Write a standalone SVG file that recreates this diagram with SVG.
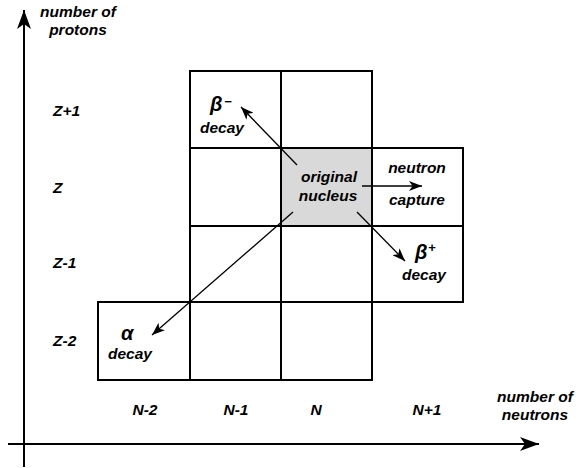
<svg xmlns="http://www.w3.org/2000/svg" width="580" height="468" viewBox="0 0 580 468">
<style>
.t{font-family:"Liberation Sans",Arial,Helvetica,sans-serif;font-weight:bold;font-style:italic;font-size:15.5px;fill:#000}
.m{text-anchor:middle}
.g{font-size:20px}
.s{font-size:13px}
.cell{fill:#fff;stroke:#000;stroke-width:2}
.orig{fill:#d9d9d9;stroke:#000;stroke-width:2}
.axis{stroke:#000;stroke-width:2;fill:none}
.arr{stroke:#000;stroke-width:1.3;fill:none}
</style>
<defs>
<marker id="big" markerUnits="userSpaceOnUse" markerWidth="20" markerHeight="14" viewBox="0 0 20 14" refX="19" refY="7" orient="auto">
<path d="M0,0 L19,7 L0,14 L5,7 Z" fill="#000"/>
</marker>
<marker id="small" markerUnits="userSpaceOnUse" markerWidth="14" markerHeight="10" viewBox="0 0 14 10" refX="13" refY="5" orient="auto">
<path d="M0,0 L13,5 L0,10 L3.5,5 Z" fill="#000"/>
</marker>
</defs>
<rect width="580" height="468" fill="#fff"/>

<g id="cells">
<g id="cell-Zp1-Nm1"><rect class="cell" x="190" y="71" width="91" height="77"/></g>
<g id="cell-Zp1-N"><rect class="cell" x="281" y="71" width="91" height="77"/></g>
<g id="cell-Z-Nm1"><rect class="cell" x="190" y="148" width="91" height="78"/></g>
<g id="cell-Z-Np1"><rect class="cell" x="372" y="148" width="91" height="78"/></g>
<g id="cell-Zm1-Nm1"><rect class="cell" x="190" y="226" width="91" height="76"/></g>
<g id="cell-Zm1-N"><rect class="cell" x="281" y="226" width="91" height="76"/></g>
<g id="cell-Zm1-Np1"><rect class="cell" x="372" y="226" width="91" height="76"/></g>
<g id="cell-Zm2-Nm2"><rect class="cell" x="98" y="302" width="92" height="78"/></g>
<g id="cell-Zm2-Nm1"><rect class="cell" x="190" y="302" width="91" height="78"/></g>
<g id="cell-Zm2-N"><rect class="cell" x="281" y="302" width="91" height="78"/></g>
<g id="original-nucleus"><rect class="orig" x="281" y="148" width="91" height="78"/>
<text class="t m" x="329" y="182">original</text>
<text class="t m" x="328" y="201">nucleus</text></g>
</g>

<g id="connectors">
<line class="axis" x1="24" y1="467" x2="24" y2="10" marker-end="url(#big)"/>
<line class="axis" x1="8" y1="444" x2="539" y2="444" marker-end="url(#big)"/>
<line class="arr" x1="297" y1="165" x2="241" y2="107" marker-end="url(#small)"/>
<line class="arr" x1="362" y1="186" x2="422" y2="186" marker-end="url(#small)"/>
<line class="arr" x1="357" y1="212" x2="405" y2="261" marker-end="url(#small)"/>
<line class="arr" x1="293" y1="212" x2="152" y2="335" marker-end="url(#small)"/>
</g>

<g id="label-protons-axis">
<text class="t m" x="78" y="17">number of</text>
<text class="t m" x="78" y="35">protons</text>
</g>
<g id="label-neutrons-axis">
<text class="t m" x="535" y="402">number of</text>
<text class="t m" x="535" y="420">neutrons</text>
</g>
<g id="row-labels">
<text class="t" x="53" y="116">Z+1</text>
<text class="t" x="53" y="193">Z</text>
<text class="t" x="53" y="268">Z-1</text>
<text class="t" x="53" y="346">Z-2</text>
</g>
<g id="col-labels">
<text class="t m" x="145" y="415">N-2</text>
<text class="t m" x="236" y="415">N-1</text>
<text class="t m" x="316" y="415">N</text>
<text class="t m" x="427" y="415">N+1</text>
</g>
<g id="label-beta-minus">
<text class="t g" x="210" y="111">β</text>
<text class="t s" x="224" y="106">−</text>
<text class="t m" x="222" y="133">decay</text>
</g>
<g id="label-neutron-capture">
<text class="t m" x="417" y="173">neutron</text>
<text class="t m" x="417" y="205">capture</text>
</g>
<g id="label-beta-plus">
<text class="t g" x="415" y="259">β</text>
<text class="t s" x="428" y="252">+</text>
<text class="t m" x="424" y="280">decay</text>
</g>
<g id="label-alpha">
<text class="t g" x="121" y="340">α</text>
<text class="t m" x="130" y="359">decay</text>
</g>
</svg>
